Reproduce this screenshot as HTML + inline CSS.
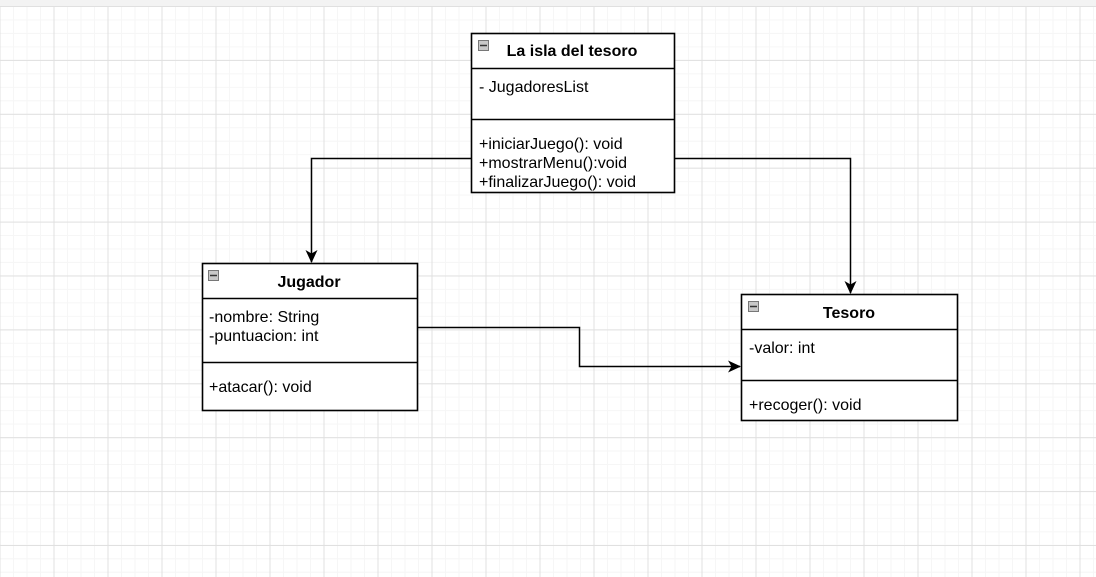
<!DOCTYPE html>
<html><head><meta charset="utf-8"><style>
html,body{margin:0;padding:0;background:#fff;}
svg{display:block;}
text{font-family:"Liberation Sans",Arial,sans-serif;font-size:16px;fill:#000;}
.b{font-weight:bold;}
</style></head><body>
<svg width="1096" height="577" viewBox="0 0 1096 577" xmlns="http://www.w3.org/2000/svg">
<defs>
<pattern id="minor" x="-0.5" y="6" width="13.5" height="13.47" patternUnits="userSpaceOnUse">
<path d="M0.5 0V13.47M0 0.5H13.5" stroke="#f6f6f6" stroke-width="1" fill="none"/>
</pattern>
<pattern id="major" x="-0.5" y="6" width="54" height="53.9" patternUnits="userSpaceOnUse">
<path d="M0.5 0V53.9M0 0.5H54" stroke="#e0e0e0" stroke-width="1" fill="none"/>
</pattern>
<marker id="ar" markerWidth="14" markerHeight="14" refX="12" refY="7" orient="auto" markerUnits="userSpaceOnUse">
<path d="M0 1 L13 7 L0 13 L3.5 7 Z" fill="#000"/>
</marker>
</defs>
<rect x="0" y="0" width="1096" height="6" fill="#f3f3f3"/>
<rect x="0" y="6" width="1096" height="571" fill="url(#minor)"/>
<rect x="0" y="6" width="1096" height="571" fill="url(#major)"/>

<path d="M471 158.5H311.5V262" stroke="#000" stroke-width="1.5" fill="none" marker-end="url(#ar)"/>
<path d="M674 158.5H850.5V293" stroke="#000" stroke-width="1.5" fill="none" marker-end="url(#ar)"/>
<path d="M418 327.5H579.5V366.5H740" stroke="#000" stroke-width="1.5" fill="none" marker-end="url(#ar)"/>

<rect x="471.5" y="33.5" width="203" height="159" fill="#fff" stroke="#000" stroke-width="1.6"/>
<line x1="471.5" y1="68.5" x2="674.5" y2="68.5" stroke="#000" stroke-width="1.6"/>
<line x1="471.5" y1="119.5" x2="674.5" y2="119.5" stroke="#000" stroke-width="1.6"/>
<rect x="478.5" y="40.5" width="10" height="10" fill="#c8c8c8" stroke="#777"/>
<line x1="480" y1="45.5" x2="487" y2="45.5" stroke="#333" stroke-width="1.5"/>
<text x="572" y="56" text-anchor="middle" class="b">La isla del tesoro</text>
<text x="479" y="92">- JugadoresList</text>
<text x="479" y="149">+iniciarJuego(): void</text>
<text x="479" y="168">+mostrarMenu():void</text>
<text x="479" y="187">+finalizarJuego(): void</text>

<rect x="202.5" y="263.5" width="215" height="147" fill="#fff" stroke="#000" stroke-width="1.6"/>
<line x1="202.5" y1="298.5" x2="417.5" y2="298.5" stroke="#000" stroke-width="1.6"/>
<line x1="202.5" y1="362.5" x2="417.5" y2="362.5" stroke="#000" stroke-width="1.6"/>
<rect x="208.5" y="270.5" width="10" height="10" fill="#c8c8c8" stroke="#777"/>
<line x1="210" y1="275.5" x2="217" y2="275.5" stroke="#333" stroke-width="1.5"/>
<text x="309" y="287" text-anchor="middle" class="b">Jugador</text>
<text x="209" y="322">-nombre: String</text>
<text x="209" y="341">-puntuacion: int</text>
<text x="209" y="392">+atacar(): void</text>

<rect x="741.5" y="294.5" width="216" height="126" fill="#fff" stroke="#000" stroke-width="1.6"/>
<line x1="741.5" y1="329.5" x2="957.5" y2="329.5" stroke="#000" stroke-width="1.6"/>
<line x1="741.5" y1="380.5" x2="957.5" y2="380.5" stroke="#000" stroke-width="1.6"/>
<rect x="748.5" y="301.5" width="10" height="10" fill="#c8c8c8" stroke="#777"/>
<line x1="750" y1="306.5" x2="757" y2="306.5" stroke="#333" stroke-width="1.5"/>
<text x="849" y="318" text-anchor="middle" class="b">Tesoro</text>
<text x="749" y="353">-valor: int</text>
<text x="749" y="410">+recoger(): void</text>
</svg>
</body></html>
